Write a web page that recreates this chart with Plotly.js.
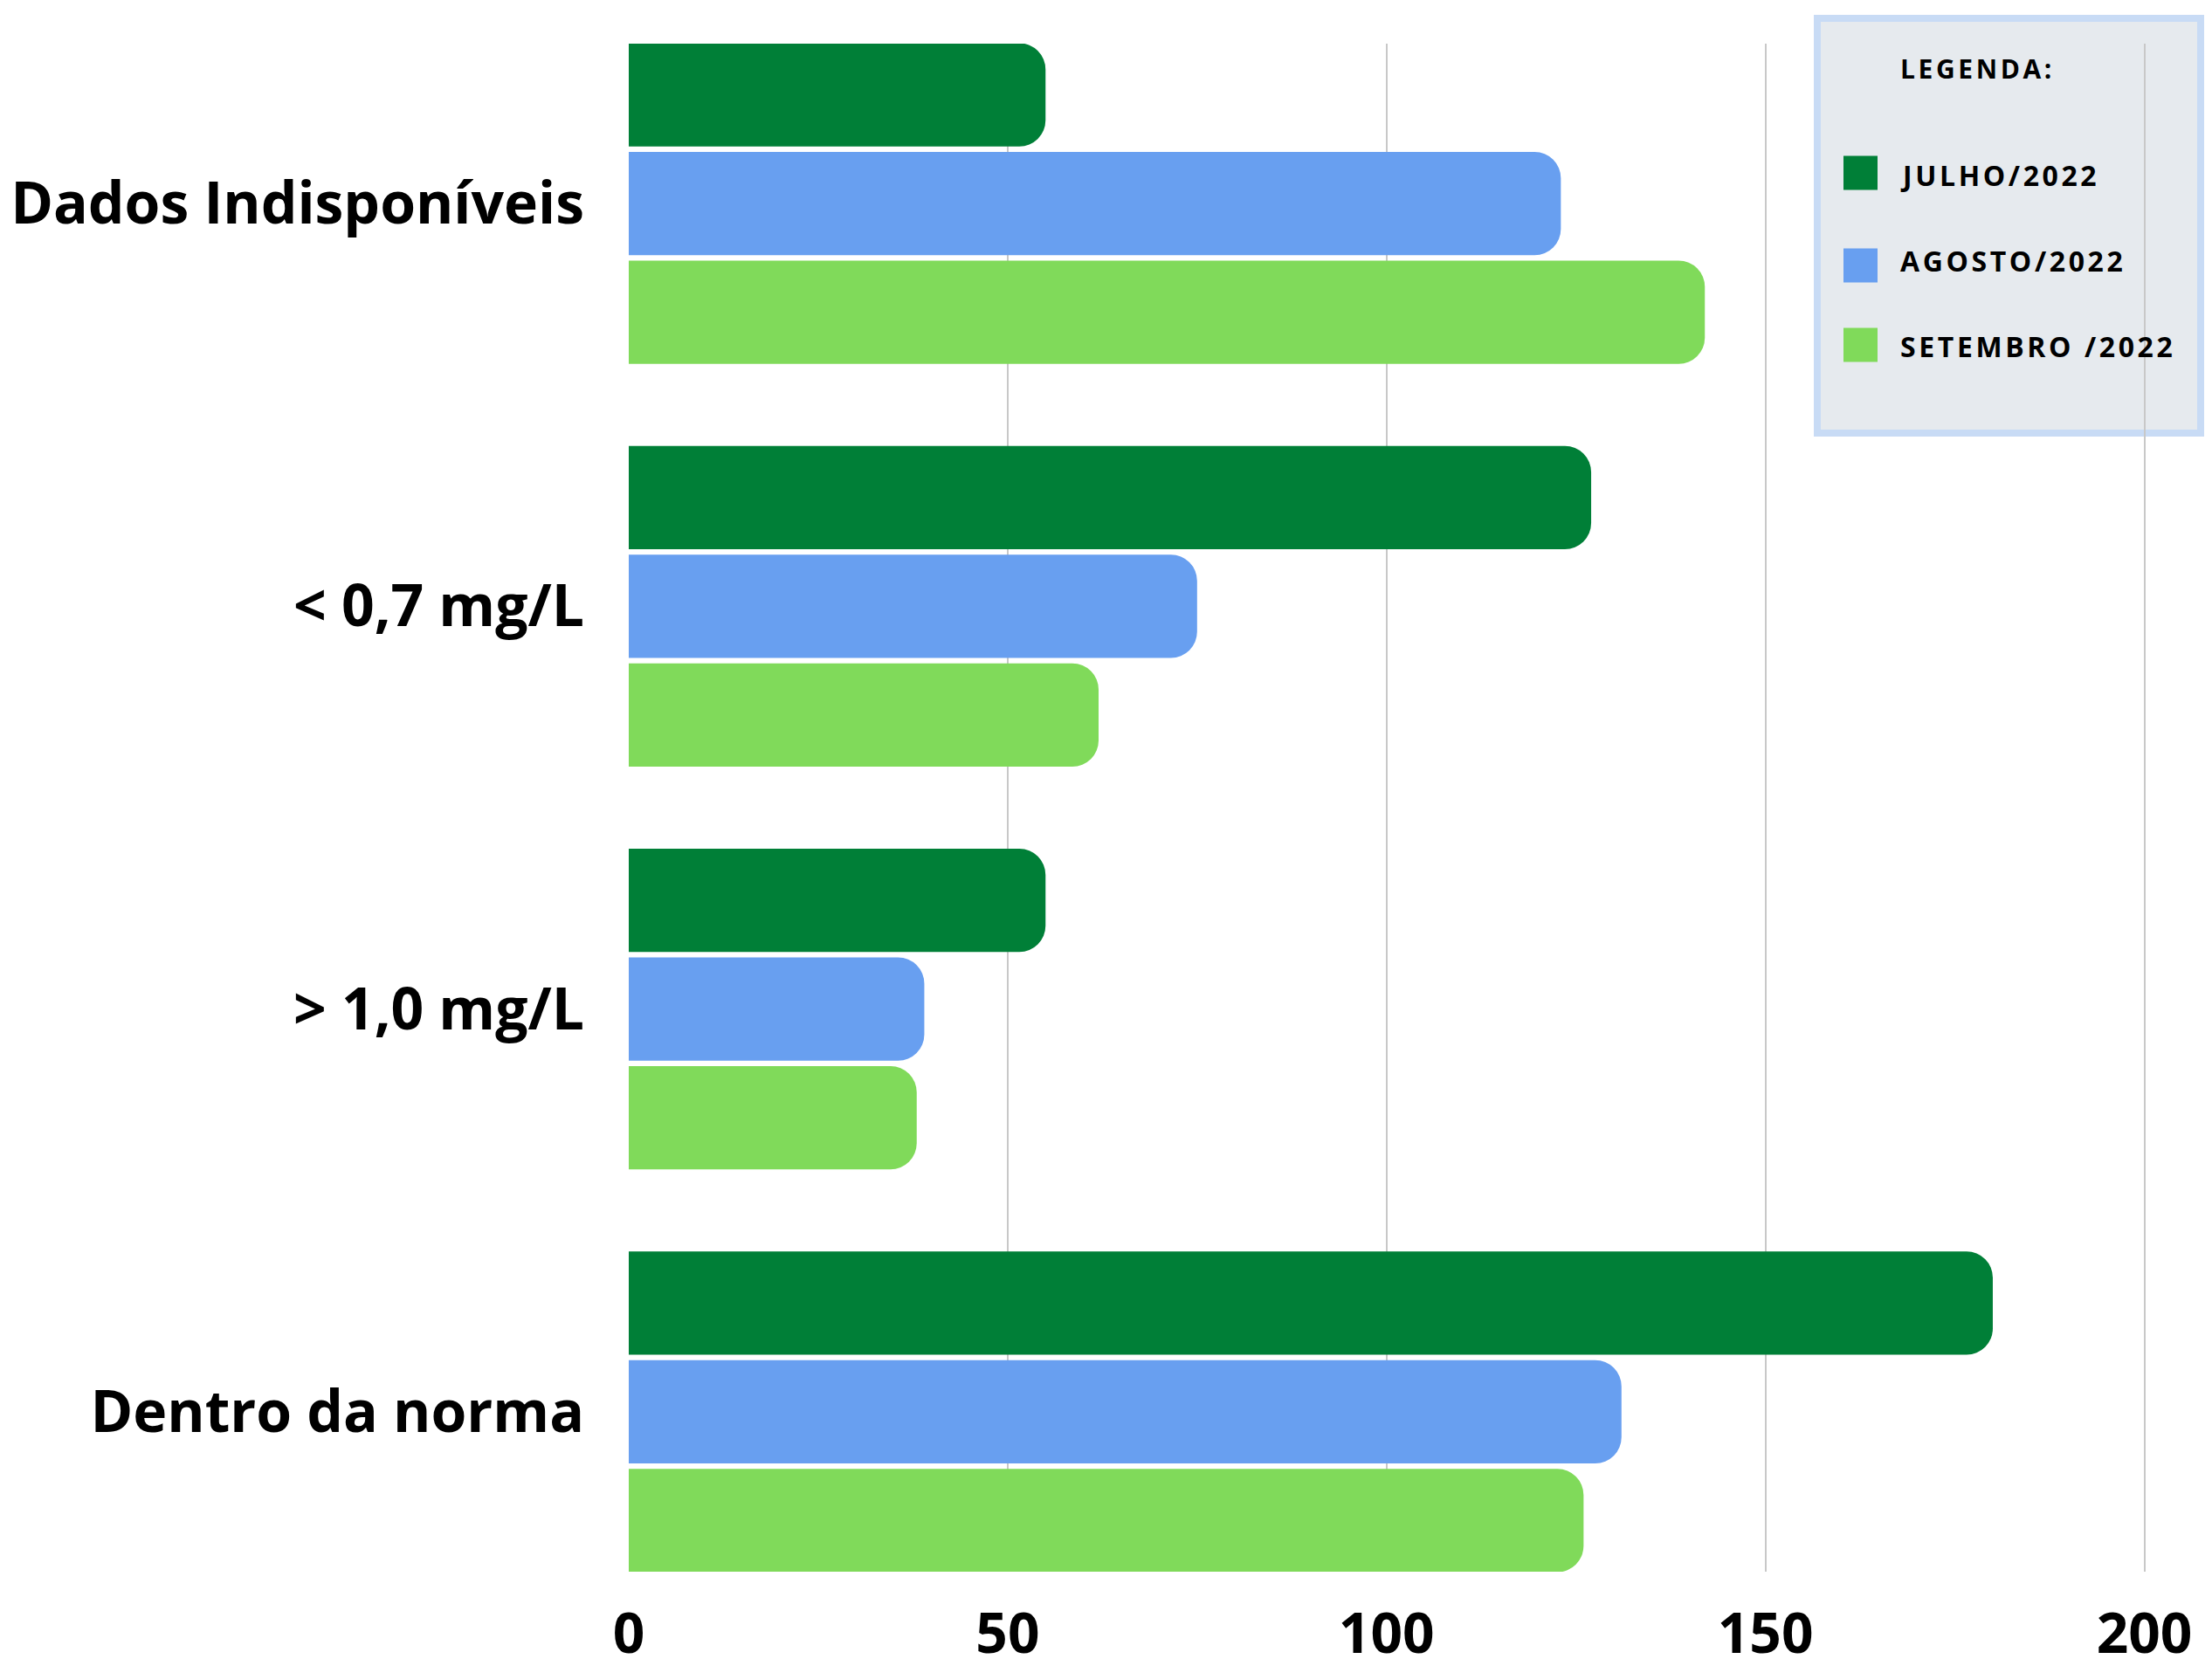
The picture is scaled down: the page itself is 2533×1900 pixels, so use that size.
<!DOCTYPE html>
<html>
<head>
<meta charset="utf-8">
<script src="https://cdn.plot.ly/plotly-3.0.1.min.js"></script>
<style>
  html, body { margin: 0; padding: 0; background: #ffffff; }
  #chart { width: 2533px; height: 1900px; }
  .annotation-text { letter-spacing: 3.6px; }
</style>
</head>
<body>
<div id="chart"></div>
<script>
// ---- data ----
const categories = ["Dados Indisponíveis", "< 0,7 mg/L", "> 1,0 mg/L", "Dentro da norma"];
const seriesNames = ["JULHO/2022", "AGOSTO/2022", "SETEMBRO /2022"];
const julho = [55, 127, 55, 180];
const agosto = [123, 75, 39, 131];
const setembro = [142, 62, 38, 126];
const xTicks = [0, 50, 100, 150, 200];
const legendTitle = "LEGENDA:";

// ---- styling ----
const colors = ["#007f37", "#689ff0", "#80da5a"];
const W = 2533, H = 1900;
const M = { l: 720, r: 74, t: 50, b: 100 };
const pw = W - M.l - M.r, ph = H - M.t - M.b;
const px = x => (x - M.l) / pw;          // pixel -> paper x
const py = y => 1 - (y - M.t) / ph;      // pixel -> paper y

const values = [julho, agosto, setembro];
const traces = values.map((v, i) => ({
  type: "bar",
  orientation: "h",
  name: seriesNames[i],
  y: categories,
  x: v,
  marker: { color: colors[i], cornerradius: 30, line: { width: 0 } },
  hoverinfo: "x+name"
}));

const font = "'Open Sans', 'Noto Sans', sans-serif";

const shapes = [{
  type: "rect", xref: "paper", yref: "paper", layer: "below",
  x0: px(2081), x1: px(2520), y0: py(21), y1: py(496),
  fillcolor: "#e6eaee", line: { color: "#c8dbf5", width: 8 }
}];
const swatchY = [198, 304, 395];
const labelY = [200, 298.5, 396.5];
const annotations = [{
  xref: "paper", yref: "paper", x: px(2174), y: py(78),
  xanchor: "left", yanchor: "middle", showarrow: false,
  text: legendTitle, font: { family: font, size: 30, weight: 700, color: "#000" }
}];
seriesNames.forEach((n, i) => {
  shapes.push({
    type: "rect", xref: "paper", yref: "paper", layer: "above",
    x0: px(2111), x1: px(2150), y0: py(swatchY[i] - 19.5), y1: py(swatchY[i] + 19.5),
    fillcolor: colors[i], line: { width: 0 }
  });
  annotations.push({
    xref: "paper", yref: "paper", x: px(2174), y: py(labelY[i]),
    xanchor: "left", yanchor: "middle", showarrow: false,
    text: n, font: { family: font, size: 32, weight: 700, color: "#000" }
  });
});

const layout = {
  width: W, height: H,
  margin: M,
  paper_bgcolor: "#ffffff",
  plot_bgcolor: "rgba(0,0,0,0)",
  barmode: "group",
  bargap: 0.19,
  bargroupgap: 0.05,
  showlegend: false,
  xaxis: {
    range: [0, 200.4],
    tickvals: xTicks,
    ticktext: xTicks.map(String),
    showgrid: true, gridcolor: "#c8c8c8", gridwidth: 2,
    zeroline: false, showline: false, ticks: "",
    ticklabelstandoff: 28,
    tickfont: { family: font, size: 64, weight: 700, color: "#000" },
    fixedrange: true
  },
  yaxis: {
    type: "category",
    categoryorder: "array", categoryarray: categories,
    range: [3.397, -0.397],
    showgrid: false, zeroline: false, showline: false, ticks: "",
    ticklabelstandoff: 50,
    tickfont: { family: font, size: 66, weight: 700, color: "#000" },
    fixedrange: true
  },
  shapes: shapes,
  annotations: annotations
};

Plotly.newPlot("chart", traces, layout, { displayModeBar: false, staticPlot: true });
</script>
</body>
</html>
